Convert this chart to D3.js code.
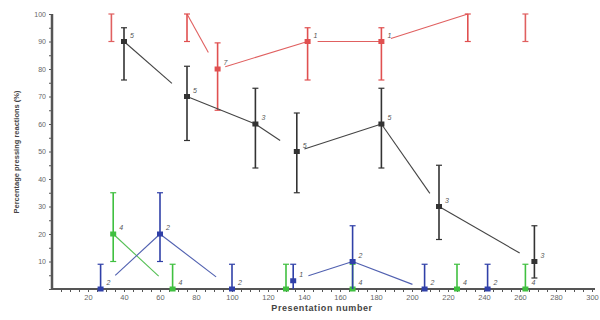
<!DOCTYPE html>
<html><head><meta charset="utf-8">
<script src="https://cdn.jsdelivr.net/npm/d3@7"></script>
<style>body{margin:0;background:#fff}svg{display:block}</style>
</head><body>
<svg id="c" width="600" height="320"></svg>
<script>
// ---- data ----
const blackX  = [40, 75, 113, 136, 183, 215, 268];
const blackY  = [90, 70, 60, 50, 60, 30, 10];
const blackLo = [76, 54, 44, 35, 44, 18, 4];
const blackHi = [95, 81, 73, 64, 73, 45, 23];
const blackN  = ["5", "5", "3", "5", "5", "3", "3"];

const redX  = [75, 92, 142, 183, 231];
const redY  = [100, 80, 90, 90, 100];
const redLo = [90, 65, 76, 76, 90];
const redHi = [100, 89.5, 95, 95, 100];
const redN  = ["", "7", "1", "1", ""];

const redSoloX  = [33, 263];
const redSoloY  = [100, 100];
const redSoloLo = [90, 90];
const redSoloHi = [100, 100];

const blueX  = [27, 60, 100, 134, 167, 207, 242];
const blueY  = [0, 20, 0, 3, 10, 0, 0];
const blueLo = [0, 10, 0, 0, 0, 0, 0];
const blueHi = [9, 35, 9, 9, 23, 9, 9];
const blueN  = ["2", "2", "2", "1", "2", "2", "2"];

const greenX  = [34, 67, 130, 167, 225, 263];
const greenY  = [20, 0, 0, 0, 0, 0];
const greenLo = [10, 0, 0, 0, 0, 0];
const greenHi = [35, 9, 9, 9, 9, 9];
const greenN  = ["4", "4", "", "4", "4", "4"];

const xTicks = [20,40,60,80,100,120,140,160,180,200,220,240,260,280,300];
const yTicks = [10,20,30,40,50,60,70,80,90,100];
const xTitle = "Presentation number";
const yTitle = "Percentage pressing reactions (%)";

// ---- style: per-segment line gaps [start, end] in px, null = not drawn ----
const blackGaps = [[0,20],[0,0],[0,20],[8,0],[0,16],[0,17]];
const redGaps   = [[0,19],[8,0],[10,0],[10,0]];
const blueGaps  = [[20,0],[0,20],null,[16,0],[0,13],null];
const greenGaps = [[0,19],null,null,null,null];

// ---- scales ----
const svg = d3.select("#c");
const x = d3.scaleLinear().domain([0, 300]).range([52, 592]);
const y = d3.scaleLinear().domain([0, 100]).range([289, 14]);
const axisCol = "#555";
const font = "Liberation Sans, Arial, sans-serif";

// axes
const gx = svg.append("g").attr("transform", `translate(0,${y(0)})`);
gx.call(d3.axisBottom(x).tickValues(d3.range(5, 301, 5)).tickSize(3).tickFormat(""));
gx.call(g => g.select(".domain").remove());
gx.append("line").attr("x1", x(0)).attr("x2", 595).attr("stroke", axisCol).attr("stroke-width", 2);
gx.selectAll(".tick line").attr("stroke", axisCol).attr("stroke-width", 1);
const gxl = svg.append("g").attr("transform", `translate(0,${y(0)})`)
  .call(d3.axisBottom(x).tickValues(xTicks).tickSize(0).tickPadding(6));
gxl.select(".domain").remove();
gxl.selectAll("text").attr("font-family", font).attr("font-size", 7.5).attr("fill", "#666");

const gy = svg.append("g").attr("transform", `translate(${x(0)},0)`);
gy.call(d3.axisLeft(y).tickValues(d3.range(0, 101, 5)).tickSize(3).tickFormat(""));
gy.call(g => g.select(".domain").remove());
gy.selectAll(".tick line").attr("stroke", axisCol);
gy.append("line").attr("y1", y(100)).attr("y2", y(0)).attr("stroke", axisCol).attr("stroke-width", 2.5);
const gyl = svg.append("g").attr("transform", `translate(${x(0)},0)`)
  .call(d3.axisLeft(y).tickValues(yTicks).tickSize(0).tickPadding(6));
gyl.select(".domain").remove();
gyl.selectAll("text").attr("font-family", font).attr("font-size", 7).attr("fill", "#666");

svg.append("text").attr("x", 322).attr("y", 311).attr("text-anchor", "middle")
  .attr("font-family", font).attr("font-size", 9).attr("font-weight", "bold")
  .attr("fill", "#444").attr("letter-spacing", 0.6).text(xTitle);
svg.append("text").attr("transform", `translate(19,152) rotate(-90)`).attr("text-anchor", "middle")
  .attr("font-family", font).attr("font-size", 7.5).attr("font-weight", "bold")
  .attr("fill", "#444").text(yTitle);

// ---- series drawing ----
function drawSeries(xs, ys, lo, hi, ns, col, barCol, gaps) {
  const g = svg.append("g");
  const pts = xs.map((v, i) => ({x: x(v), y: y(ys[i]), lo: y(lo[i]), hi: y(hi[i]), v: ys[i], n: ns ? ns[i] : ""}));
  if (gaps) {
    for (let i = 0; i < pts.length - 1; i++) {
      const gp = gaps[i];
      if (!gp) continue;
      const a = pts[i], b = pts[i + 1];
      const dx = b.x - a.x, dy = b.y - a.y, L = Math.hypot(dx, dy);
      g.append("line")
        .attr("x1", a.x + dx / L * gp[0]).attr("y1", a.y + dy / L * gp[0])
        .attr("x2", b.x - dx / L * gp[1]).attr("y2", b.y - dy / L * gp[1])
        .attr("stroke", col).attr("stroke-width", 1.1);
    }
  }
  pts.forEach(p => {
    g.append("line").attr("x1", p.x).attr("x2", p.x).attr("y1", p.lo).attr("y2", p.hi)
      .attr("stroke", barCol).attr("stroke-width", 1.6);
    [p.lo, p.hi].forEach(yy => {
      if (yy < y(0) - 0.5)
        g.append("line").attr("x1", p.x - 3).attr("x2", p.x + 3).attr("y1", yy).attr("y2", yy)
          .attr("stroke", barCol).attr("stroke-width", 1.2);
    });
    if (p.v < 100)
      g.append("rect").attr("x", p.x - 3).attr("y", p.y - 2.5).attr("width", 6).attr("height", 5)
        .attr("fill", barCol);
    if (p.n)
      g.append("text").attr("x", p.x + 6).attr("y", p.y - 4).attr("font-size", 7)
        .attr("font-style", "italic").attr("font-family", font)
        .attr("fill", "#555").text(p.n);
  });
}

drawSeries(redSoloX, redSoloY, redSoloLo, redSoloHi, null, "#e06060", "#e06060", null);
drawSeries(redX, redY, redLo, redHi, redN, "#e06060", "#e05050", redGaps);
drawSeries(greenX, greenY, greenLo, greenHi, greenN, "#55c055", "#40c040", greenGaps);
drawSeries(blueX, blueY, blueLo, blueHi, blueN, "#5060b0", "#3040a8", blueGaps);
drawSeries(blackX, blackY, blackLo, blackHi, blackN, "#444", "#333", blackGaps);
</script>
</body></html>
